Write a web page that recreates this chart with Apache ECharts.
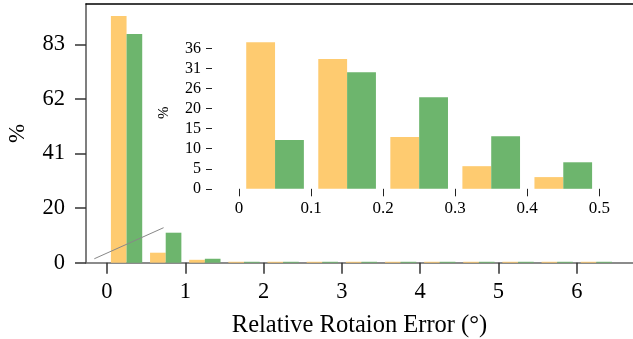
<!DOCTYPE html>
<html><head><meta charset="utf-8">
<script src="https://cdn.jsdelivr.net/npm/echarts@6/dist/echarts.min.js"></script>
<style>html,body{margin:0;padding:0;background:#fff}#c{width:633px;height:339px}</style>
</head><body><div id="c"></div>
<script>
// ---- data ----
const mainBinStarts = [0, 0.5, 1, 1.5, 2, 2.5, 3, 3.5, 4, 4.5, 5, 5.5, 6];
const mainBinWidth = 0.5;
const orangeMain = [93.7, 3.8, 1.1, 0.35, 0.35, 0.35, 0.35, 0.35, 0.35, 0.35, 0.35, 0.35, 0.35];
const greenMain  = [86.9, 11.4, 1.5, 0.35, 0.35, 0.35, 0.35, 0.35, 0.35, 0.35, 0.35, 0.35, 0.35];
const mainXTicks = [0, 1, 2, 3, 4, 5, 6];
const mainYTicks = [0, 20.75, 41.5, 62.25, 83];
const mainYTickLabels = ['0', '20', '41', '62', '83'];

const insetBinStarts = [0, 0.1, 0.2, 0.3, 0.4];
const insetBinWidth = 0.1;
const orangeInset = [37.6, 33.3, 13.3, 5.8, 3.0];
const greenInset  = [12.5, 29.9, 23.5, 13.5, 6.8];
const insetXTicks = [0, 0.1, 0.2, 0.3, 0.4, 0.5];
const insetXTickLabels = ['0', '0.1', '0.2', '0.3', '0.4', '0.5'];
const insetYTicks = [0, 5.14, 10.29, 15.43, 20.57, 25.71, 30.86, 36];
const insetYTickLabels = ['0', '5', '10', '15', '20', '26', '31', '36'];

const connector = [[-0.162, 1.5], [0.723, 13.3]];

const ORANGE = '#FECB70', GREEN = '#6DB56D';
const FONT = '"Liberation Serif", "DejaVu Serif", serif';

function hist(name, starts, w, values, off, color, xi, yi) {
  const data = starts.map((s, i) => [s + w * off, s + w * (off + 0.4), values[i]]);
  return {
    type: 'custom', name, xAxisIndex: xi, yAxisIndex: yi, data, z: 3,
    encode: { x: [0, 1], y: 2 },
    renderItem(params, api) {
      const p0 = api.coord([api.value(0), api.value(2)]);
      const p1 = api.coord([api.value(1), 0]);
      return { type: 'rect', shape: { x: p0[0], y: p0[1], width: p1[0] - p0[0], height: p1[1] - p0[1] }, style: { fill: color } };
    }
  };
}

const chart = echarts.init(document.getElementById('c'), null, { renderer: 'canvas' });
chart.setOption({
  backgroundColor: '#fff',
  animation: false,
  textStyle: { fontFamily: FONT },
  grid: [
    { left: 86, top: 4, width: 547, height: 258.7, outerBoundsMode: 'none', containLabel: false },
    { left: 212, top: 36.7, width: 387.3, height: 152.1, outerBoundsMode: 'none', containLabel: false }
  ],
  xAxis: [
    { type: 'value', gridIndex: 0, min: -0.268, max: 6.718,
      axisLine: { show: true, onZero: false, lineStyle: { color: '#666', width: 1.5 } },
      axisTick: { show: true, customValues: mainXTicks, length: 11, lineStyle: { color: '#333', width: 1.5 } },
      axisLabel: { customValues: mainXTicks, fontSize: 22.5, color: '#000', margin: 18, fontFamily: FONT },
      splitLine: { show: false },
      name: 'Relative Rotaion Error (°)', nameLocation: 'middle', nameGap: 50,
      nameTextStyle: { fontSize: 24.5, color: '#000', fontFamily: FONT } },
    { type: 'value', gridIndex: 0, position: 'top', min: -0.268, max: 6.718,
      axisLine: { show: true, onZero: false, lineStyle: { color: '#000', width: 1.5 } },
      axisTick: { show: false }, axisLabel: { show: false }, splitLine: { show: false } },
    { type: 'value', gridIndex: 1, min: -0.0375, max: 0.5,
      axisLine: { show: false, onZero: false },
      axisTick: { show: true, customValues: insetXTicks, length: 7.5, lineStyle: { color: '#222', width: 1 } },
      axisLabel: { customValues: insetXTicks, fontSize: 17, color: '#000', margin: 11, fontFamily: FONT,
        formatter: v => insetXTickLabels[insetXTicks.findIndex(t => Math.abs(t - v) < 1e-6)] },
      splitLine: { show: false } }
  ],
  yAxis: [
    { type: 'value', gridIndex: 0, min: 0, max: 98.3,
      axisLine: { show: true, onZero: false, lineStyle: { color: '#555', width: 1.5 } },
      axisTick: { show: true, customValues: mainYTicks, length: 11, lineStyle: { color: '#333', width: 1.5 } },
      axisLabel: { customValues: mainYTicks, fontSize: 22.5, color: '#000', margin: 21, fontFamily: FONT,
        formatter: v => mainYTickLabels[mainYTicks.findIndex(t => Math.abs(t - v) < 1e-6)] },
      splitLine: { show: false },
      name: '%', nameLocation: 'middle', nameGap: 57,
      nameTextStyle: { fontSize: 23, color: '#000', fontFamily: FONT } },
    { type: 'value', gridIndex: 1, min: 0, max: 39,
      axisLine: { show: false, onZero: false },
      axisTick: { show: true, customValues: insetYTicks, length: 6, lineStyle: { color: '#222', width: 1 } },
      axisLabel: { customValues: insetYTicks, fontSize: 16, color: '#000', margin: 11, fontFamily: FONT,
        formatter: v => insetYTickLabels[insetYTicks.findIndex(t => Math.abs(t - v) < 1e-6)] },
      splitLine: { show: false },
      name: '%', nameLocation: 'middle', nameGap: 40,
      nameTextStyle: { fontSize: 15, color: '#000', fontFamily: FONT } }
  ],
  series: [
    hist('Orange', mainBinStarts, mainBinWidth, orangeMain, 0.1, ORANGE, 0, 0),
    hist('Green', mainBinStarts, mainBinWidth, greenMain, 0.5, GREEN, 0, 0),
    hist('Orange (zoom)', insetBinStarts, insetBinWidth, orangeInset, 0.1, ORANGE, 2, 1),
    hist('Green (zoom)', insetBinStarts, insetBinWidth, greenInset, 0.5, GREEN, 2, 1),
    { type: 'line', xAxisIndex: 0, yAxisIndex: 0, data: connector, symbol: 'none', silent: true, z: 4,
      lineStyle: { color: '#888', width: 1 } }
  ]
});
</script>
</body></html>
